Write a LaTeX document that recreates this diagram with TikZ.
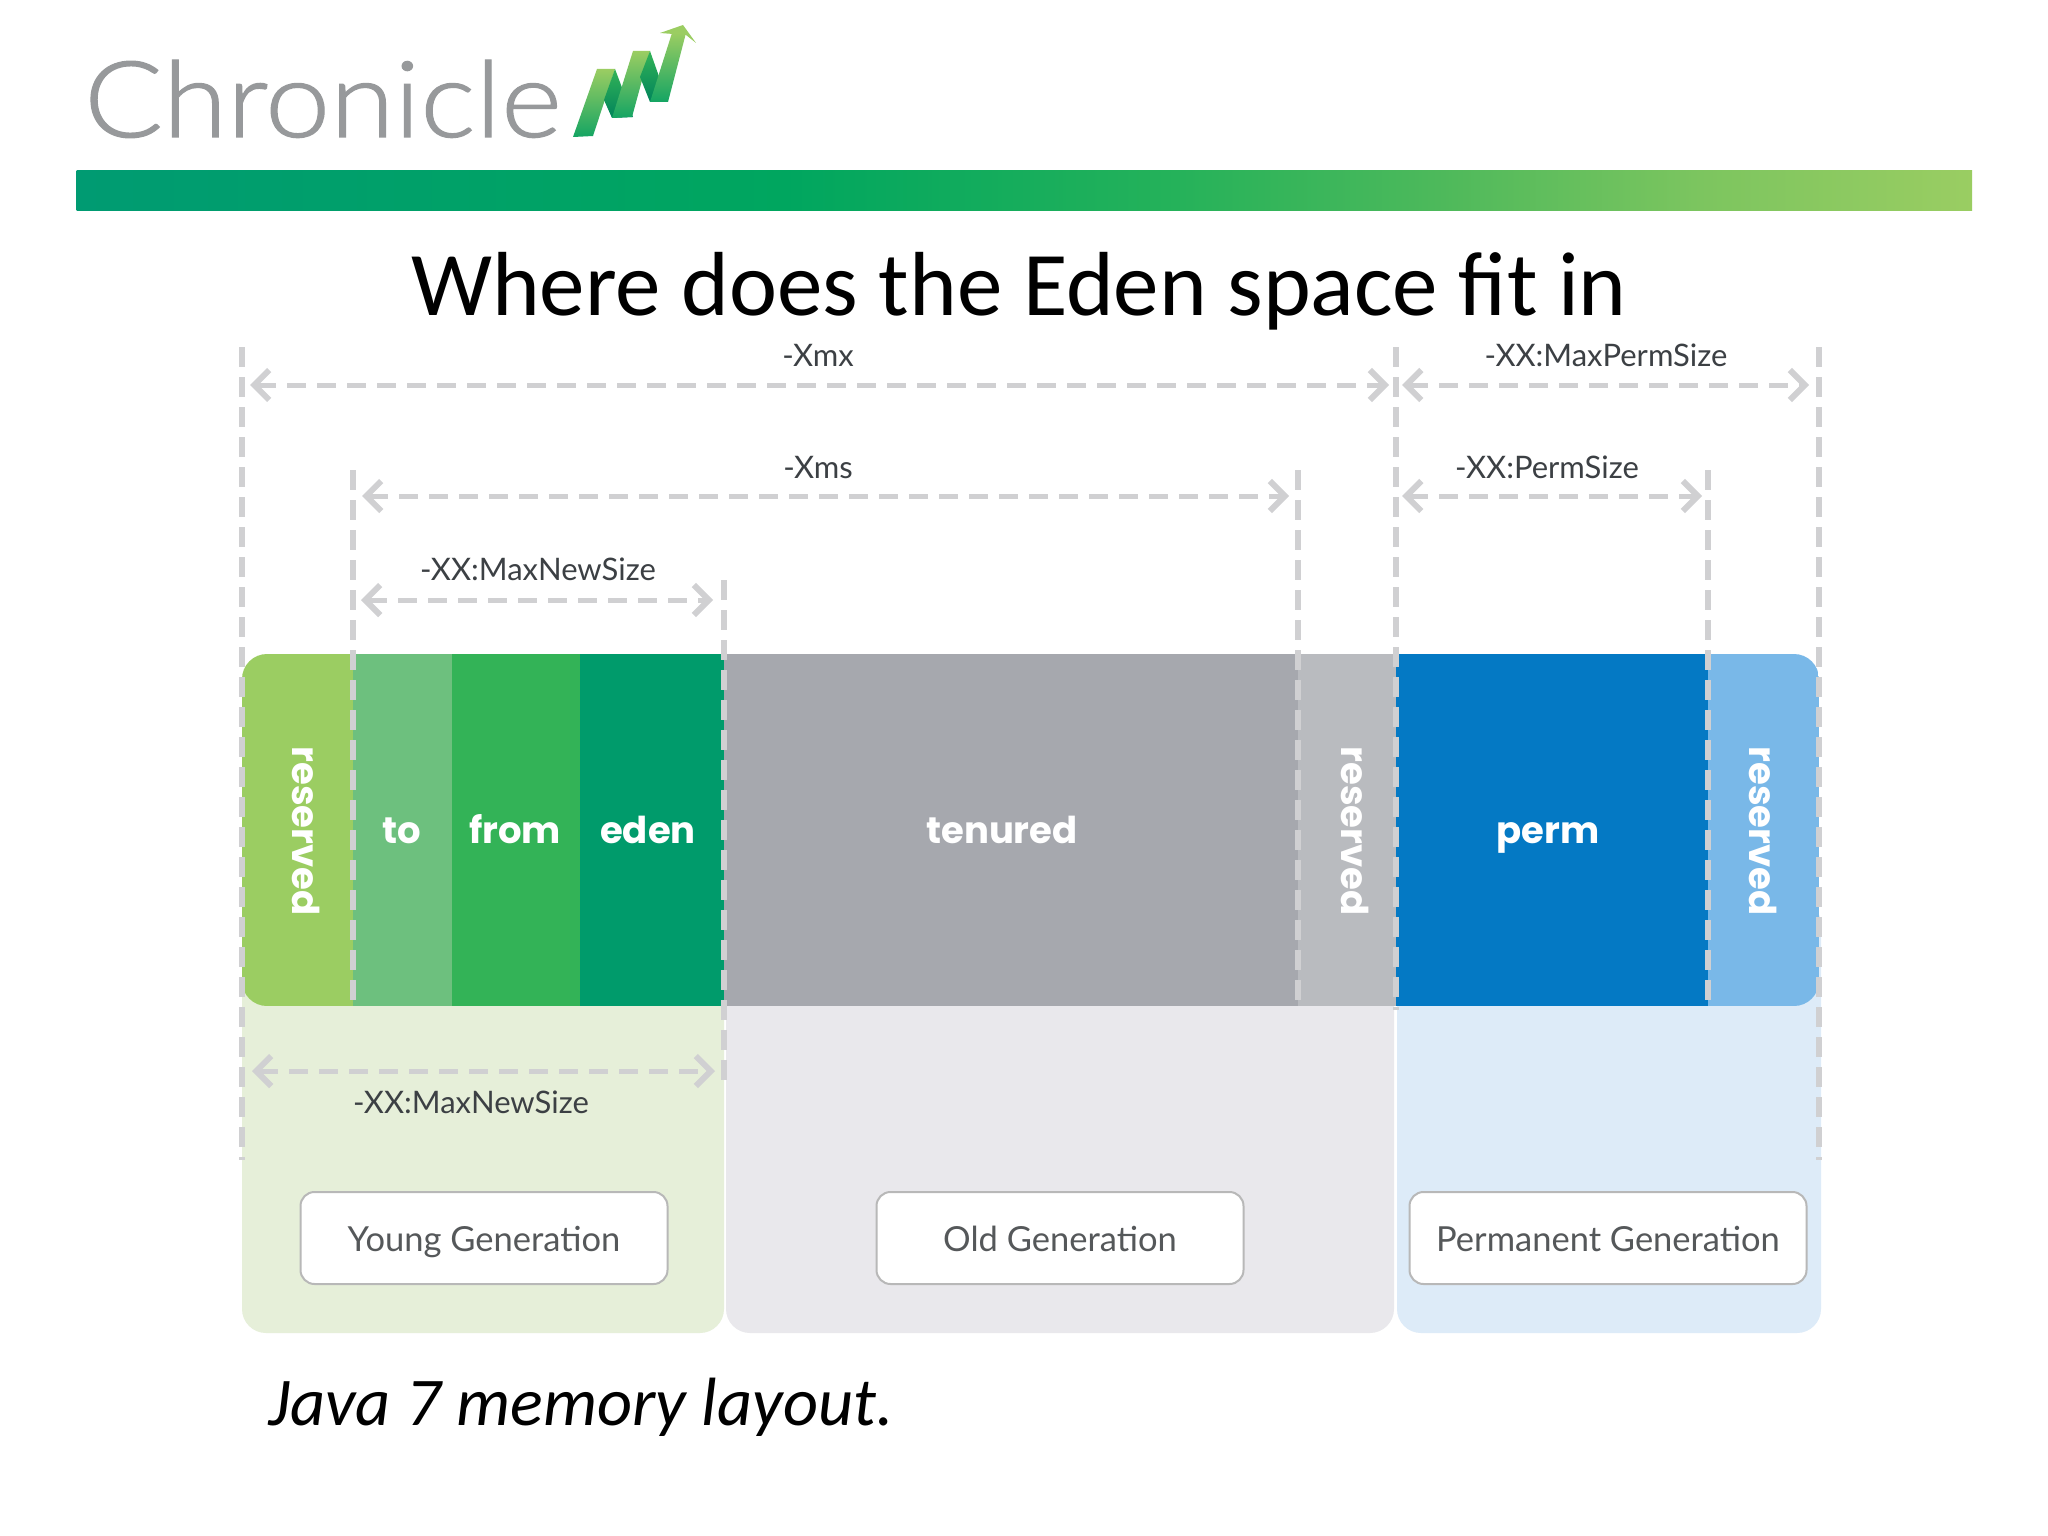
\documentclass[tikz,border=0pt]{standalone}
\usepackage{fontspec}
\usetikzlibrary{arrows.meta,shapes.geometric}
\setmainfont{Carlito}
\newfontfamily\lbl{Lato}
\newfontfamily\barfont{Poppins}
\newfontfamily\logofont{Lato Light}[FakeStretch=1.1,FakeBold=1.2]
\definecolor{dashgray}{HTML}{D0D0D2}
\definecolor{lbltext}{HTML}{3C4044}
\definecolor{boxtext}{HTML}{55585A}
\definecolor{logogray}{HTML}{97999B}
\definecolor{resgreen}{HTML}{9BCD62}
\definecolor{tocol}{HTML}{6DC07E}
\definecolor{fromcol}{HTML}{33B357}
\definecolor{edencol}{HTML}{009B6B}
\definecolor{tencol}{HTML}{A6A8AE}
\definecolor{resgray}{HTML}{B9BBBF}
\definecolor{permcol}{HTML}{0479C4}
\definecolor{resblue}{HTML}{79B8E8}
\definecolor{ypanel}{HTML}{E6EFD9}
\definecolor{opanel}{HTML}{E9E8EC}
\definecolor{ppanel}{HTML}{DDEBF8}
\definecolor{rulea}{HTML}{009B72}
\definecolor{ruleb}{HTML}{00A65F}
\definecolor{rulec}{HTML}{25B25A}
\definecolor{ruled}{HTML}{4DB95B}
\definecolor{rulee}{HTML}{7CC55F}
\definecolor{rulef}{HTML}{9ACD62}
\pgfdeclarehorizontalshading{topbar}{100bp}{
  color(0bp)=(rulea); color(25bp)=(rulea); color(43.7bp)=(ruleb);
  color(54bp)=(rulec); color(60.9bp)=(ruled); color(67.8bp)=(rulee);
  color(75bp)=(rulef); color(100bp)=(rulef)}
\tikzset{
  x=1pt,y=-1pt,
  title/.style={font=\fontsize{91}{93}\selectfont,inner sep=0pt,anchor=center},
  caption/.style={font=\fontsize{68.3}{70}\selectfont\itshape,inner sep=0pt},
  dimlabel/.style={font=\lbl\fontsize{31}{33}\selectfont,text=lbltext,inner sep=0pt},
  guide/.style={draw=dashgray,line width=5.5pt,dash pattern=on 20pt off 10pt},
  dimline/.style={draw=dashgray,line width=5pt,dash pattern=on 19pt off 11pt,
     {Straight Barb[length=15pt,width=30pt,line width=6pt]}-{Straight Barb[length=15pt,width=30pt,line width=6pt]}},
  genbox/.style={draw=black!28,line width=2pt,fill=white,rounded corners=14pt,inner sep=0pt,
     minimum height=92pt,text height=34pt,text depth=7pt,font=\lbl\fontsize{34.5}{36}\selectfont,text=boxtext},
  barlabel/.style={font=\barfont\bfseries\fontsize{37}{39}\selectfont,text=white,inner sep=0pt,anchor=base},
  panel/.style={rounded corners=24pt},
}
\begin{document}
\begin{tikzpicture}
\useasboundingbox (0,0) rectangle (2048,1536);
\fill[white] (0,0) rectangle (2048,1536);
% logo
\node[font=\logofont\fontsize{106}{108}\selectfont,text=logogray,anchor=base west,inner sep=0pt] (logotext) at (84,137) {Chronicle};
\shade[bottom color=fromcol!40!edencol,top color=resgreen] (573,137)--(593,136)--(615,69)--(597,69)--cycle;
\shade[top color=fromcol,bottom color=edencol!85!black] (615,69)--(633,117)--(612,118)--(604,100)--cycle;
\shade[bottom color=fromcol!40!edencol,top color=resgreen] (612,118)--(632,117)--(650,51)--(633,51)--cycle;
\shade[top color=fromcol,bottom color=edencol!85!black] (650,51)--(668,102)--(650,102)--(640,77)--cycle;
\shade[bottom color=fromcol!40!edencol,top color=resgreen] (650,102)--(668,102)--(686,33)--(672,33)--cycle;
\fill[resgreen] (660,33)--(683,25)--(696,43)--(686,35)--cycle;
% green rule
\shade[shading=topbar] (76.5,170.5) rectangle (1972,210.5);
% title
\node[title] (ttl) at (1019,291) {Where does the Eden space fit in};
% panels
\fill[ypanel,panel] (242,900) rectangle (724,1333);
\fill[opanel,panel] (726,900) rectangle (1394,1333);
\fill[ppanel,panel] (1397,900) rectangle (1821,1333);
% bar
\begin{scope}
\clip[rounded corners=25pt] (242,654) rectangle (1819,1006);
\fill[resgreen] (242,654) rectangle (353,1006);
\fill[tocol] (353,654) rectangle (452,1006);
\fill[fromcol] (452,654) rectangle (580,1006);
\fill[edencol] (580,654) rectangle (724,1006);
\fill[tencol] (724,654) rectangle (1298,1006);
\fill[resgray] (1298,654) rectangle (1396,1006);
\fill[permcol] (1396,654) rectangle (1708,1006);
\fill[resblue] (1708,654) rectangle (1819,1006);
\end{scope}
% bar labels
\node[barlabel,rotate=-90] (r1) at (292,831) {reserved};
\node[barlabel] (to) at (402,843) {to};
\node[barlabel] (from) at (515,843) {from};
\node[barlabel] (eden) at (648,843) {eden};
\node[barlabel] (ten) at (1002,843) {tenured};
\node[barlabel,rotate=-90] (r2) at (1341,831) {reserved};
\node[barlabel] (perm) at (1548,843) {perm};
\node[barlabel,rotate=-90] (r3) at (1749,831) {reserved};
% guide end points
\coordinate (g1t) at (242,347); \coordinate (g1b) at (242,1160);
\coordinate (g2t) at (353,470); \coordinate (g2b) at (353,1010);
\coordinate (g3t) at (724,580); \coordinate (g3b) at (724,1090);
\coordinate (g4t) at (1298,470); \coordinate (g4b) at (1298,1010);
\coordinate (g5t) at (1396,347); \coordinate (g5b) at (1396,1010);
\coordinate (g6t) at (1708,470); \coordinate (g6b) at (1708,1010);
\coordinate (g7t) at (1819,347); \coordinate (g7b) at (1819,1160);
\foreach \a/\b in {g1t/g1b,g2t/g2b,g3t/g3b,g4t/g4b,g5t/g5b,g6t/g6b,g7t/g7b}
  \draw[guide] (\a) -- (\b);
% dimension lines
\coordinate (xmxL) at (250,385); \coordinate (xmxR) at (1389,385);
\coordinate (xmsL) at (362,496); \coordinate (xmsR) at (1289,496);
\coordinate (mnL) at (361,600); \coordinate (mnR) at (713,600);
\coordinate (mpL) at (1402,385); \coordinate (mpR) at (1809,385);
\coordinate (psL) at (1402,496); \coordinate (psR) at (1702,496);
\coordinate (ylL) at (252,1071); \coordinate (ylR) at (715,1071);
\foreach \a/\b in {xmxL/xmxR,xmsL/xmsR,mnL/mnR,mpL/mpR,psL/psR,ylL/ylR}
  \draw[dimline] (\a) -- (\b);
% dimension labels
\node[dimlabel] (lxmx) at (818,355) {-Xmx};
\node[dimlabel] (lxms) at (818,468) {-Xms};
\node[dimlabel] (lmn) at (538,569) {-XX:MaxNewSize};
\node[dimlabel] (lmp) at (1606,355) {-XX:MaxPermSize};
\node[dimlabel] (lps) at (1547,467) {-XX:PermSize};
\node[dimlabel] (lyl) at (471,1102) {-XX:MaxNewSize};
% generation boxes
\node[genbox,minimum width=367pt] (yg) at (484,1238) {Young Generation};
\node[genbox,minimum width=367pt] (og) at (1060,1238) {Old Generation};
\node[genbox,minimum width=397pt] (pg) at (1608,1238) {Permanent Generation};
% caption
\node[caption,anchor=center] (cap) at (581,1407) {Java 7 memory layout.};
\end{tikzpicture}
\end{document}
